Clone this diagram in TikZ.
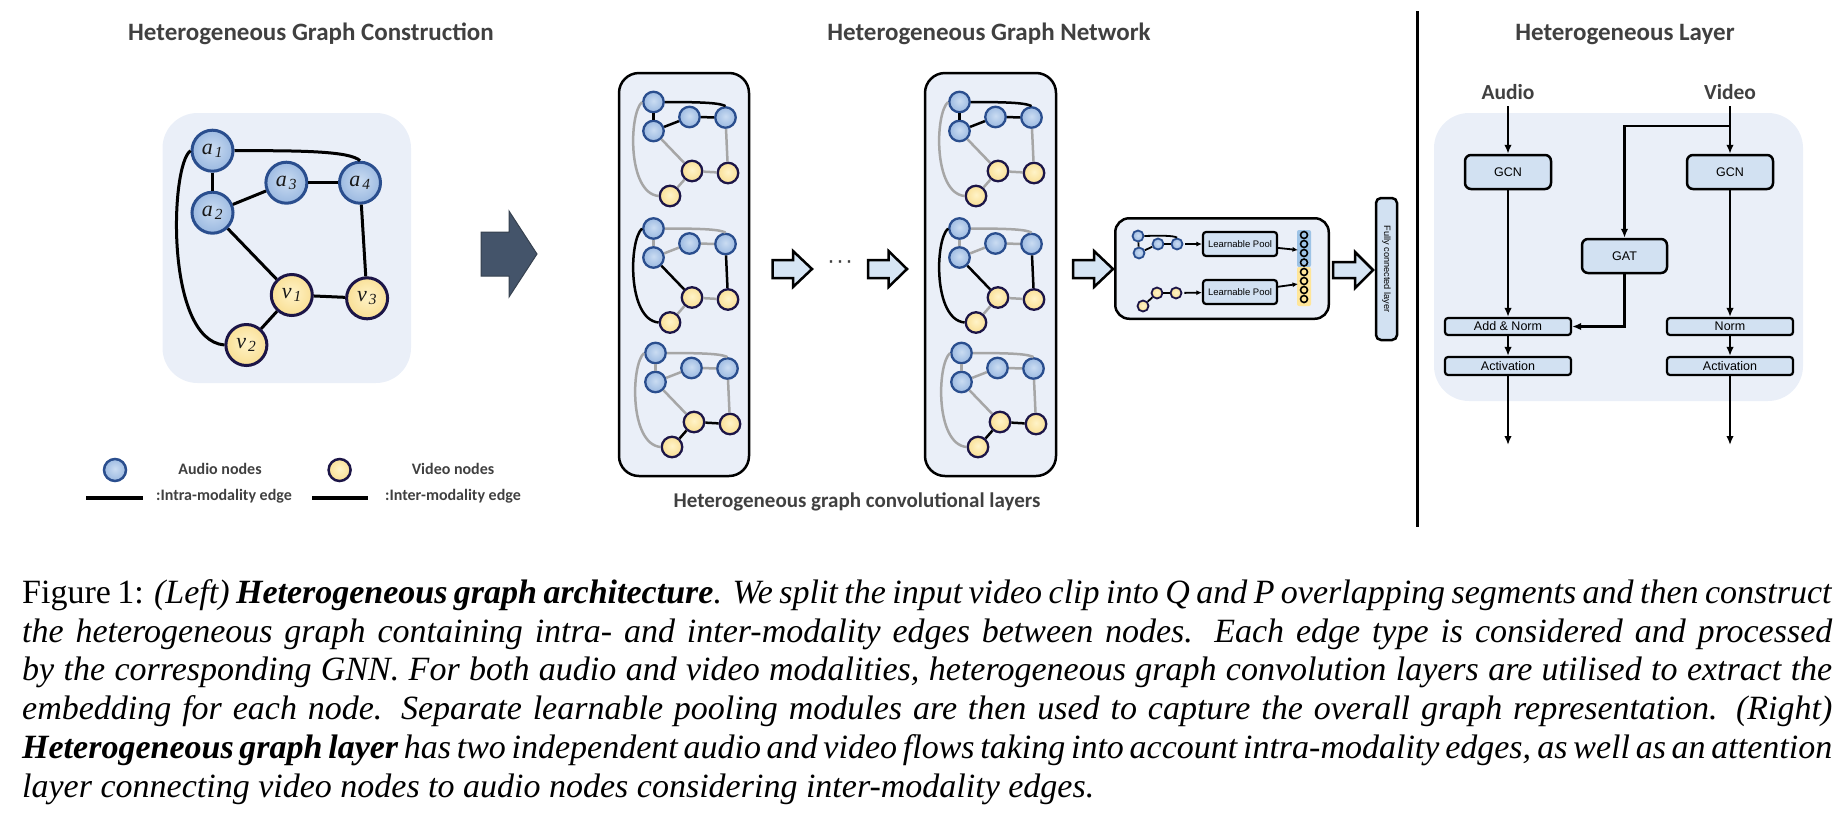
\documentclass[tikz,border=0pt]{standalone}
\usepackage{fontspec}
\setmainfont{Liberation Serif}
\newfontfamily\calib{Carlito}
\newfontfamily\arialf{Liberation Sans}
\usetikzlibrary{arrows.meta}
\definecolor{bgpanel}{HTML}{EAEFF8}
\definecolor{boxfill}{HTML}{D2E1F2}
\definecolor{arrfill}{HTML}{D6E5F4}
\definecolor{titlegray}{HTML}{404040}
\definecolor{audioborder}{HTML}{2A4E8E}
\definecolor{audioin}{HTML}{CADCF2}
\definecolor{audioout}{HTML}{779ED3}
\definecolor{videoborder}{HTML}{1C1547}
\definecolor{videoin}{HTML}{FFF3C8}
\definecolor{videoout}{HTML}{F4CF6C}
\definecolor{edgegray}{HTML}{A6A6A6}
\definecolor{bigarrow}{HTML}{44546A}
\definecolor{bigarrowdk}{HTML}{36414F}
\definecolor{vecblue}{HTML}{9DC3E6}
\definecolor{vecyellow}{HTML}{FFE699}
\pgfdeclareradialshading{ashade}{\pgfpoint{0bp}{3bp}}{color(0bp)=(audioin); color(46bp)=(audioout); color(50bp)=(audioout)}
\pgfdeclareradialshading{vshade}{\pgfpoint{0bp}{3bp}}{color(0bp)=(videoin); color(46bp)=(videoout); color(50bp)=(videoout)}
\newcommand\glab[2]{\fontsize{22}{22}\selectfont\itshape #1\kern2pt\textsubscript{#2}}
\newcommand\capfont{\fontsize{34}{38.8}\selectfont}
\newcommand\blockarrow[7]{\draw[#7] (#1,#4-#5) -- (#2,#4-#5) -- (#2,#4-#6) -- (#3,#4) -- (#2,#4+#6) -- (#2,#4+#5) -- (#1,#4+#5) -- cycle;}
\newcommand\minigraph[6]{%
\begin{scope}[shift={(#1,#2)}]
\node[manode] (#3a1) at (34.5,29) {};
\node[manode] (#3a2) at (34.5,58) {};
\node[manode] (#3a3) at (70.5,44) {};
\node[manode] (#3a4) at (106.5,44.5) {};
\node[mvnode] (#3v1) at (73,98) {};
\node[mvnode] (#3v3) at (109,100) {};
\node[mvnode] (#3v2) at (51,123) {};
\draw[#6] (#3v1) -- (#3v3);
\draw[#6] (#3v1) -- (#3v2);
\draw[#5] (#3a2) -- (#3v1);
\draw[#5] (#3a4) -- (#3v3);
\draw[#5] (#3a1.west) .. controls (10,40) and (8,120) .. (#3v2.west);
\draw[#4] (#3a1) -- (#3a2);
\draw[#4] (#3a2) -- (#3a3);
\draw[#4] (#3a3) -- (#3a4);
\draw[#4] (#3a1.east) .. controls (85,29) and (101,30) .. (#3a4.north);
\end{scope}}
\tikzset{
  anode/.style={circle, draw=audioborder, line width=3pt, shade, shading=ashade, minimum size=41pt, inner sep=0pt, text=black!90},
  vnode/.style={circle, draw=videoborder, line width=3pt, shade, shading=vshade, minimum size=41pt, inner sep=0pt, text=black!90},
  manode/.style={anode, line width=2.3pt, minimum size=20.5pt},
  mvnode/.style={vnode, line width=2.3pt, minimum size=20.5pt},
  panode/.style={anode, line width=1.8pt, minimum size=11pt},
  pvnode/.style={vnode, line width=1.8pt, minimum size=11pt},
  lanode/.style={anode, line width=2.5pt, minimum size=22pt},
  lvnode/.style={vnode, line width=2.5pt, minimum size=22pt},
  bigedge/.style={line width=3pt, black},
  medge/.style={line width=2.5pt, black},
  mgray/.style={line width=2.5pt, edgegray},
  pedge/.style={line width=1.8pt, black},
  ttl/.style={font=\calib\bfseries\fontsize{25}{30}\selectfont, text=titlegray, anchor=base, inner sep=0pt},
  sub/.style={font=\calib\bfseries\fontsize{21}{25}\selectfont, text=titlegray, anchor=base, inner sep=0pt},
  leg/.style={font=\calib\bfseries\fontsize{16}{19}\selectfont, text=titlegray, anchor=base, inner sep=0pt},
  blk/.style={draw=black, line width=2.5pt, rounded corners=6pt, fill=boxfill, font=\arialf\fontsize{12.5}{15}\selectfont, inner sep=0pt},
  thinblk/.style={blk, line width=2.2pt, rounded corners=3pt},
  flow/.style={line width=2.5pt, -{Latex[length=9pt,width=7.5pt]}},
  pflow/.style={line width=1.8pt, -{Latex[length=5.5pt,width=5pt]}},
  blockarr/.style={draw=black, line width=2.5pt, fill=arrfill, line join=miter},
  vecc/.style={circle, draw=black, line width=1.6pt, minimum size=7pt, inner sep=0pt}
}
\begin{document}
\begin{tikzpicture}[x=1pt,y=-1pt]
\useasboundingbox (0,0) rectangle (1846,828);
% ---------- titles
\node[ttl] (t1) at (311,40) {Heterogeneous Graph Construction};
\node[ttl] (t2) at (989,40) {Heterogeneous Graph Network};
\node[ttl] (t3) at (1625,40) {Heterogeneous Layer};
% ---------- left graph
\fill[bgpanel, rounded corners=35pt] (162.5,113) rectangle (411,383);
\node[anode] (a1) at (212.5,150.7) {\glab{a}{1}};
\node[anode] (a2) at (212.5,212.7) {\glab{a}{2}};
\node[anode] (a3) at (286.4,182.7) {\glab{a}{3}};
\node[anode] (a4) at (360,182.7) {\glab{a}{4}};
\node[vnode] (v1) at (291.8,295) {\glab{v}{1}};
\node[vnode] (v3) at (367.1,298.3) {\glab{v}{3}};
\node[vnode] (v2) at (246.4,345) {\glab{v}{2}};
\draw[bigedge] (a1) -- (a2);
\draw[bigedge] (a2) -- (a3);
\draw[bigedge] (a3) -- (a4);
\draw[bigedge] (a4) -- (v3);
\draw[bigedge] (a2) -- (v1);
\draw[bigedge] (v1) -- (v3);
\draw[bigedge] (v1) -- (v2);
\draw[bigedge] (a1.east) .. controls (300,150.5) and (350,151) .. (a4.north);
\draw[bigedge] (a1.west) .. controls (170,165) and (165,340) .. (v2.west);
% legend
\node[lanode] (la) at (115,470) {};
\node[leg] (lat) at (220,474) {Audio nodes};
\node[lvnode] (lv) at (339.6,470) {};
\node[leg] (lvt) at (453,474) {Video nodes};
\coordinate (l1a) at (86,498); \coordinate (l1b) at (143,498);
\draw[line width=3.3pt] (l1a) -- (l1b);
\node[leg] (l1t) at (224,500) {:Intra-modality edge};
\coordinate (l2a) at (312,498); \coordinate (l2b) at (368,498);
\draw[line width=3.3pt] (l2a) -- (l2b);
\node[leg] (l2t) at (453,500) {:Inter-modality edge};
% big arrow
\blockarrow{481}{509}{537}{254}{22}{43}{fill=bigarrow, draw=bigarrowdk, line width=1pt, line join=miter}
% ---------- middle panels
\draw[line width=2.5pt, rounded corners=20pt, fill=bgpanel] (619,73) rectangle (749,476);
\draw[line width=2.5pt, rounded corners=20pt, fill=bgpanel] (925,73) rectangle (1056,476);
\minigraph{619}{73}{pag}{medge}{mgray}{mgray}
\minigraph{619}{199.5}{pbg}{mgray}{medge}{mgray}
\minigraph{621}{324}{pcg}{mgray}{mgray}{medge}
\minigraph{925}{73}{qag}{medge}{mgray}{mgray}
\minigraph{925}{199.5}{qbg}{mgray}{medge}{mgray}
\minigraph{927}{324}{qcg}{mgray}{mgray}{medge}
\blockarrow{772.5}{793}{812}{269}{9}{18}{blockarr}
\node[font=\arialf\fontsize{24}{24}\selectfont, text=titlegray, inner sep=0pt] (dots) at (840,265) {·\kern1pt·\kern1pt·};
\blockarrow{868}{888.5}{907}{269}{9}{18}{blockarr}
\blockarrow{1073}{1094}{1113}{269}{9}{18}{blockarr}
\node[sub] (subt) at (857,507) {Heterogeneous graph convolutional layers};
% ---------- pooling box
\node[draw, line width=2.5pt, rounded corners=14pt, fill=bgpanel, minimum width=213.5pt, minimum height=100.5pt, inner sep=0pt] (poolbox) at (1222,268.5) {};
\node[panode] (pa1) at (1138,236) {};
\node[panode] (pa2) at (1139,253) {};
\node[panode] (pa3) at (1158,244) {};
\node[panode] (pa4) at (1177,244) {};
\draw[pedge] (pa1) -- (pa2);
\draw[pedge] (pa2) -- (pa3);
\draw[pedge] (pa3) -- (pa4);
\draw[pedge] (pa1.east) .. controls (1160,235.5) and (1174,235.5) .. (pa4.north);
\node[pvnode] (pv2) at (1143,306) {};
\node[pvnode] (pv1) at (1157,293) {};
\node[pvnode] (pv3) at (1176,293) {};
\draw[pedge] (pv2) -- (pv1);
\draw[pedge] (pv1) -- (pv3);
\node[thinblk, font=\arialf\fontsize{9.5}{11}\selectfont, minimum width=74pt, minimum height=24pt] (lp1) at (1240,244) {Learnable Pool};
\node[thinblk, font=\arialf\fontsize{9.5}{11}\selectfont, minimum width=74pt, minimum height=24pt] (lp2) at (1240,292) {Learnable Pool};
\draw[pflow, shorten <=2pt] (pa4) -- (lp1);
\draw[pflow, shorten <=2pt] (pv3) -- (lp2);
\fill[vecblue, rounded corners=2pt] (1297,230) rectangle (1311,267);
\fill[vecyellow, rounded corners=2pt] (1297,267) rectangle (1311,306);
\foreach \i/\yy in {1/235,2/244,3/253,4/262.5}{\node[vecc, fill=vecblue] (vb\i) at (1304,\yy) {};}
\foreach \i/\yy in {1/272,2/281,3/290,4/299}{\node[vecc, fill=vecyellow] (vy\i) at (1304,\yy) {};}
\coordinate (vecA) at (1298,250);
\coordinate (vecB) at (1298,284);
\draw[pflow] (lp1) -- (vecA);
\draw[pflow] (lp2) -- (vecB);
\blockarrow{1333}{1355}{1373}{270}{8}{18}{blockarr}
\node[blk, line width=2.5pt, rounded corners=5pt, minimum width=21pt, minimum height=142pt] (fc) at (1386.5,269) {};
\node[font=\arialf\fontsize{9.2}{11}\selectfont, rotate=-90, inner sep=0pt] (fct) at (1386.5,269) {Fully connected layer};
% divider
\coordinate (d1) at (1417,11); \coordinate (d2) at (1417,527);
\draw[line width=3pt] (d1) -- (d2);
% ---------- heterogeneous layer
\fill[bgpanel, rounded corners=35pt] (1434,113) rectangle (1803,401);
\node[font=\calib\bfseries\fontsize{21.5}{25}\selectfont, text=titlegray, anchor=base, inner sep=0pt] (audiot) at (1508,99.3) {Audio};
\node[font=\calib\bfseries\fontsize{21.5}{25}\selectfont, text=titlegray, anchor=base, inner sep=0pt] (videot) at (1730,99.3) {Video};
\node[blk, minimum width=86pt, minimum height=34pt] (gcna) at (1508,172) {GCN};
\node[blk, minimum width=86pt, minimum height=34pt] (gcnv) at (1730,172) {GCN};
\node[blk, minimum width=85pt, minimum height=34pt] (gat) at (1624.5,256) {GAT};
\node[thinblk, minimum width=126pt, minimum height=17pt] (addn) at (1508,326.5) {Add \& Norm};
\node[thinblk, minimum width=126pt, minimum height=18pt] (acta) at (1508,366) {Activation};
\node[thinblk, minimum width=126pt, minimum height=17pt] (normv) at (1730,326.5) {Norm};
\node[thinblk, minimum width=126pt, minimum height=18pt] (actv) at (1730,366) {Activation};
\coordinate (ain) at (1508,106);
\coordinate (vin) at (1730,106);
\coordinate (vbr) at (1730,126);
\coordinate (aout) at (1508,445);
\coordinate (vout) at (1730,445);
\draw[flow] (ain) -- (gcna);
\draw[flow] (gcna) -- (addn);
\draw[flow] (addn) -- (acta);
\draw[flow] (acta) -- (aout);
\draw[flow] (vin) -- (gcnv);
\draw[flow] (vbr) -| (gat);
\draw[flow] (gat) |- (addn);
\draw[flow] (gcnv) -- (normv);
\draw[flow] (normv) -- (actv);
\draw[flow] (actv) -- (vout);
% ---------- caption
\node[anchor=base west, inner sep=0pt] (cap1) at (22,603.3) {\capfont\makebox[1810pt][s]{Figure 1: \textit{(Left) \textbf{Heterogeneous graph architecture}. We split the input video clip into Q and P overlapping segments and then construct}}};
\node[anchor=base west, inner sep=0pt] (cap2) at (22,642.1) {\capfont\itshape\makebox[1810pt][s]{the heterogeneous graph containing intra- and inter-modality edges between nodes. Each edge type is considered and processed}};
\node[anchor=base west, inner sep=0pt] (cap3) at (22,680.9) {\capfont\itshape\makebox[1810pt][s]{by the corresponding GNN. For both audio and video modalities, heterogeneous graph convolution layers are utilised to extract the}};
\node[anchor=base west, inner sep=0pt] (cap4) at (22,719.7) {\capfont\itshape\makebox[1810pt][s]{embedding for each node. Separate learnable pooling modules are then used to capture the overall graph representation. (Right)}};
\node[anchor=base west, inner sep=0pt] (cap5) at (22,758.5) {\capfont\itshape\makebox[1810pt][s]{\textbf{Heterogeneous graph layer} has two independent audio and video flows taking into account intra-modality edges, as well as an attention}};
\node[anchor=base west, inner sep=0pt] (cap6) at (22,797.3) {\capfont\itshape layer connecting video nodes to audio nodes considering inter-modality edges.};
\end{tikzpicture}
\end{document}
